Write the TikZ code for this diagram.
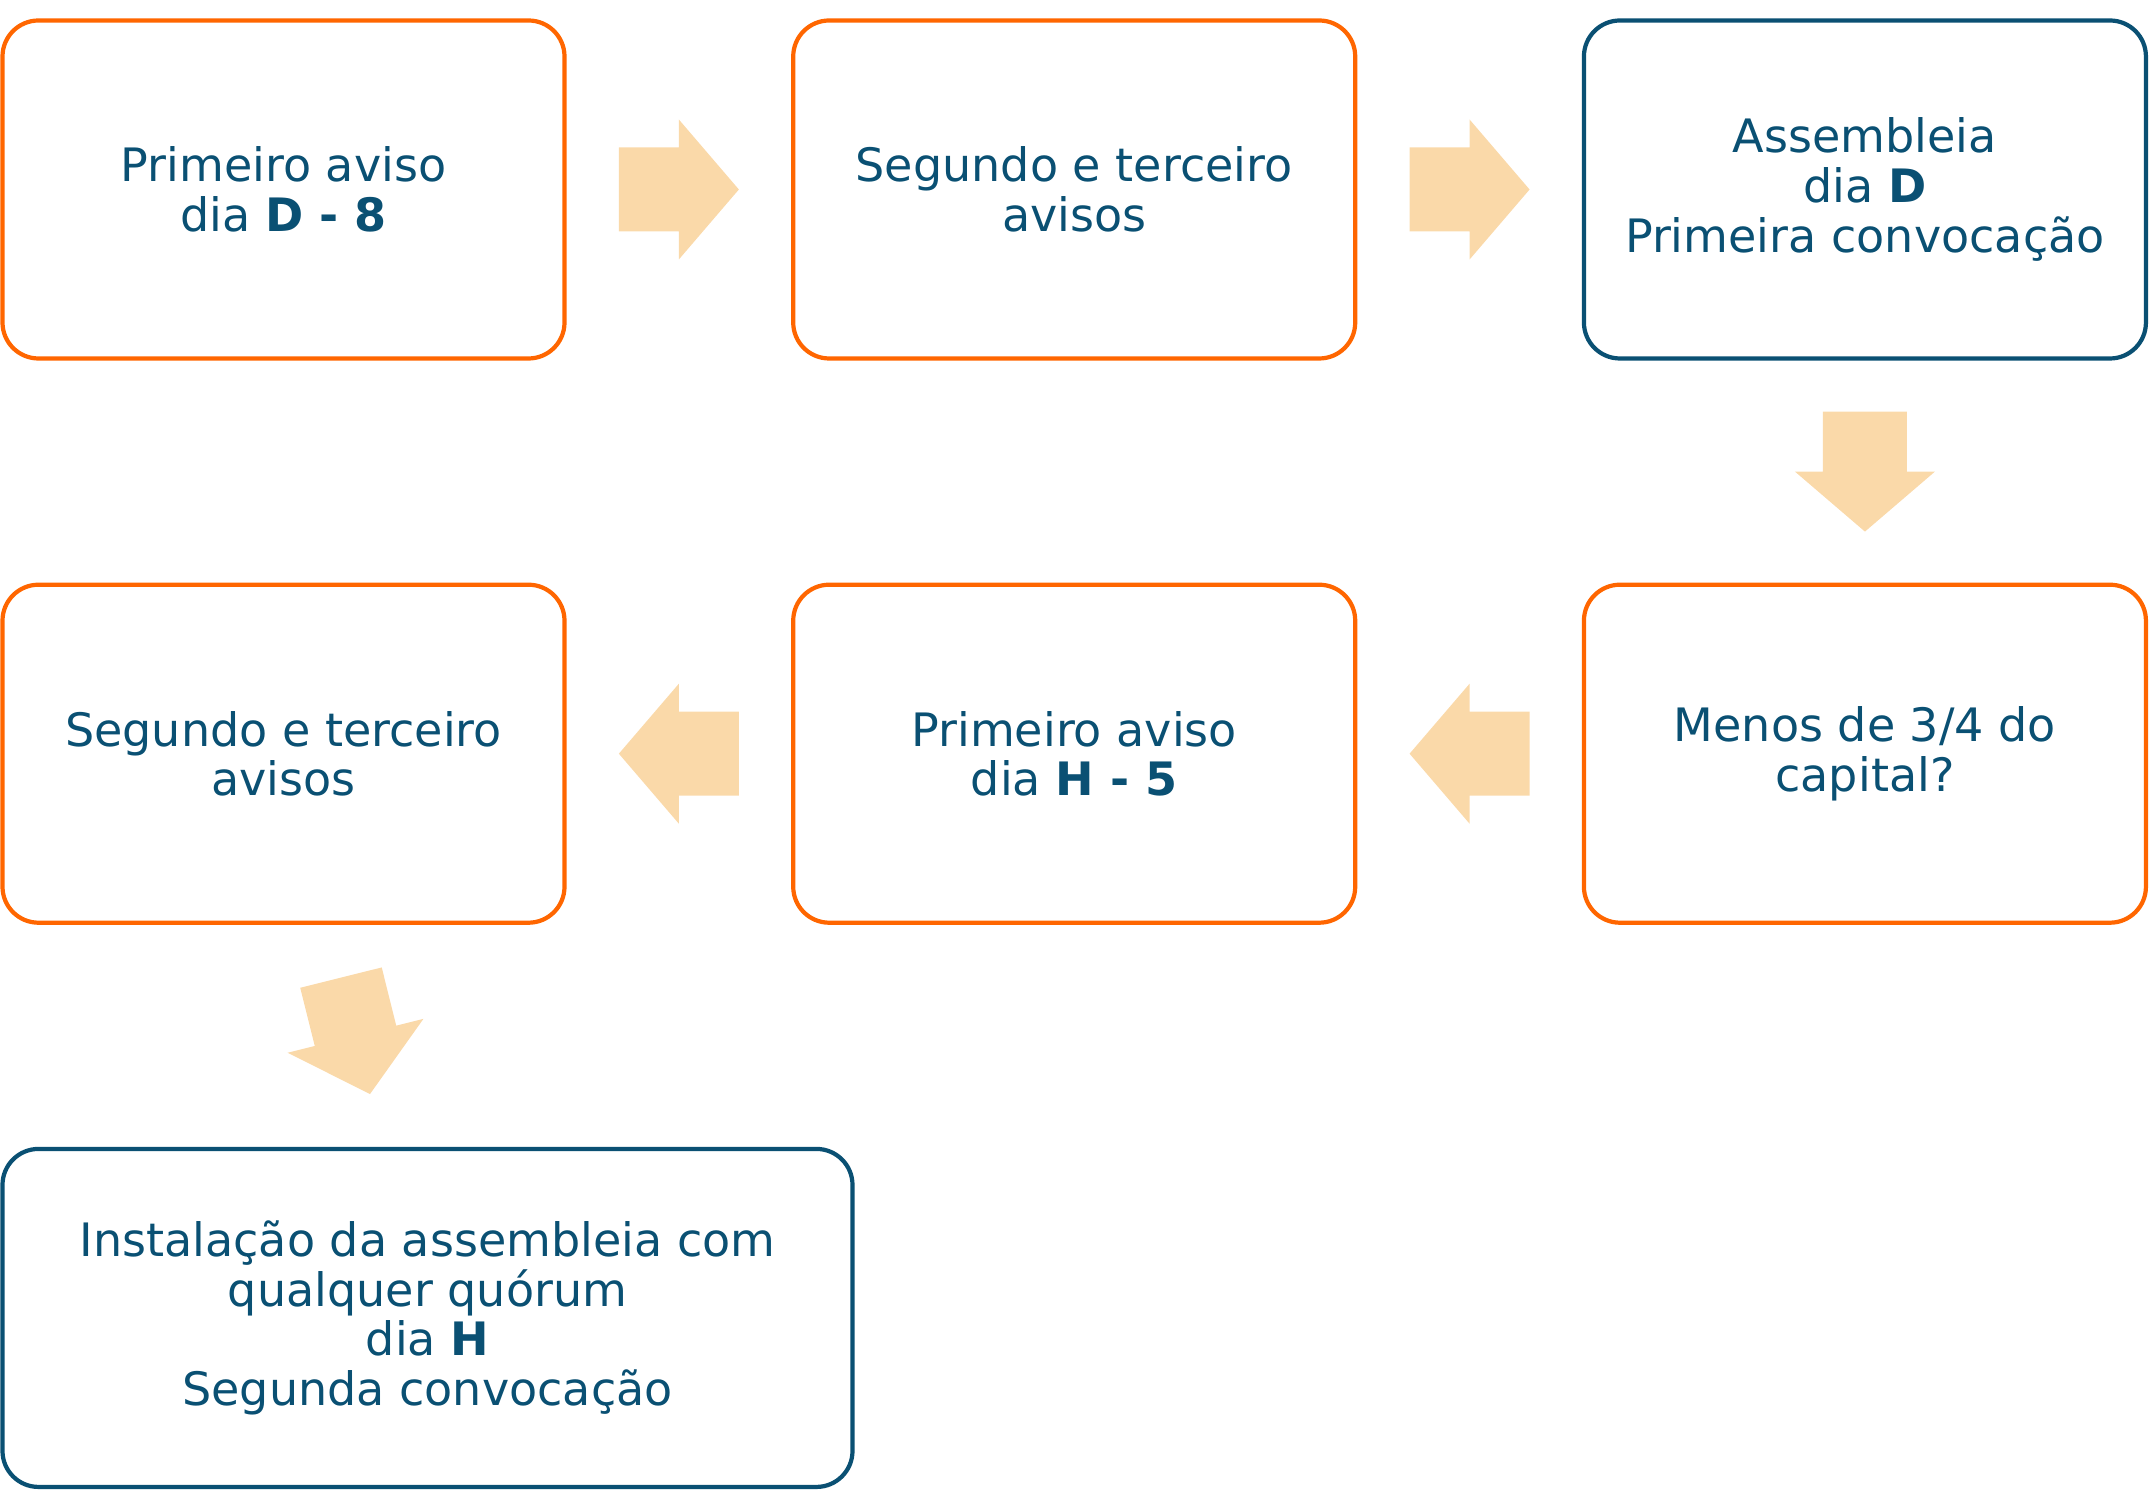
\documentclass[tikz,border=0pt]{standalone}
\usepackage{fontspec}
\setmainfont{DejaVu Sans}
\usetikzlibrary{positioning,calc}
\definecolor{avisoorange}{RGB}{255,102,0}
\definecolor{avisoblue}{RGB}{10,80,115}
\definecolor{setafill}{RGB}{250,217,169}
\newcommand{\seta}[2]{\fill[setafill,shift={(#1)},rotate=#2] (-0.6,-0.42) -- (0,-0.42) -- (0,-0.7) -- (0.6,0) -- (0,0.7) -- (0,0.42) -- (-0.6,0.42) -- cycle;}

\begin{document}
\begin{tikzpicture}[etapa/.style={rounded corners=0.36cm,line width=1.2pt,minimum width=5.62cm,minimum height=3.38cm,align=center,text=avisoblue,font=\fontsize{13.1}{14.1}\selectfont},
  laranja/.style={etapa,draw=avisoorange},
  azul/.style={etapa,draw=avisoblue}]
\useasboundingbox (0,0) rectangle (21.5,-15.08);

\node[laranja] (d8) at (2.835,-1.895) {Primeiro aviso\\dia \textbf{D - 8}};
\node[laranja, right=2.245cm of d8] (seg1) {Segundo e terceiro\\avisos};
\node[azul, right=2.245cm of seg1] (assem) {Assembleia\\dia \textbf{D}\\Primeira convocação};
\node[laranja, below=2.22cm of assem] (menos) {Menos de 3/4 do\\capital?};
\node[laranja, left=2.245cm of menos] (h5) {Primeiro aviso\\dia \textbf{H - 5}};
\node[laranja, left=2.245cm of h5] (seg2) {Segundo e terceiro\\avisos};
\node[azul, minimum width=8.5cm, below=2.22cm of seg2.south west, anchor=north west] (inst) {Instalação da assembleia com\\qualquer quórum\\dia \textbf{H}\\Segunda convocação};

\coordinate (s1) at ($(d8.east)!0.5!(seg1.west)$);
\coordinate (s2) at ($(seg1.east)!0.5!(assem.west)$);
\coordinate (s3) at ($(assem.south)!0.5!(menos.north)$);
\coordinate (s4) at ($(menos.west)!0.5!(h5.east)$);
\coordinate (s5) at ($(h5.west)!0.5!(seg2.east)$);
\coordinate (s6) at ($(seg2.south)!0.5!(inst.north)$);

\seta{s1}{0}
\seta{s2}{0}
\seta{s3}{-90}
\seta{s4}{180}
\seta{s5}{180}
\seta{s6}{-76}
\end{tikzpicture}
\end{document}
